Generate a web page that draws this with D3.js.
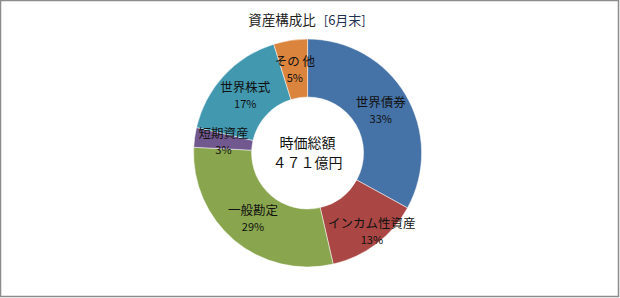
<!DOCTYPE html>
<html>
<head>
<meta charset="utf-8">
<script src="https://cdn.jsdelivr.net/npm/d3@7"></script>
<style>
  body { margin: 0; background: #fff; }
  text { font-family: "Noto Sans CJK JP", "Noto Sans", sans-serif; }
</style>
</head>
<body>
<svg id="chart" width="620" height="298"></svg>
<script>
  // asset mix, clockwise from 12 o'clock
  var categories = ["世界債券", "インカム性資産", "一般勘定", "短期資産", "世界株式", "その 他"];
  var shares = [33.0, 13.4, 29.4, 2.8, 16.6, 4.8];
  var colors = ["#4572A7", "#AA4643", "#89A54E", "#71588F", "#4198AF", "#DB843D"];
  var centerLines = ["時価総額", "４７１億円"];

  var svg = d3.select("#chart");

  svg.append("rect")
    .attr("x", 0.5).attr("y", 0.5)
    .attr("width", 618).attr("height", 296)
    .attr("fill", "#fff")
    .attr("stroke", "#8c8c8c")
    .attr("stroke-width", 1.5);

  // title
  var title = svg.append("text")
    .attr("x", 307).attr("y", 25)
    .attr("text-anchor", "middle")
    .style("font-size", "13.5px");
  title.append("tspan").attr("fill", "#222").text("資産構成比");
  title.append("tspan").attr("dx", 8).attr("fill", "#1f3050").style("font-size", "13px").text("[6月末]");

  var cx = 307.6, cy = 153, rOuter = 114, rInner = 56;

  var pie = d3.pie().sort(null).value(function(d) { return d; });
  var arcs = pie(shares);
  var arc = d3.arc().innerRadius(rInner).outerRadius(rOuter);

  var g = svg.append("g").attr("transform", "translate(" + cx + "," + cy + ")");

  g.selectAll("path.slice")
    .data(arcs)
    .enter().append("path")
    .attr("class", "slice")
    .attr("d", arc)
    .attr("fill", function(d, i) { return colors[i]; })
    .attr("stroke", "#fff")
    .attr("stroke-width", 0.5);

  // the long label was dragged outward a bit in the original
  function nudge(i) { return i === 1 ? [13, 10] : [0, 0]; }

  var labels = g.selectAll("g.lbl")
    .data(arcs)
    .enter().append("g")
    .attr("class", "lbl")
    .attr("transform", function(d, i) {
      var c = arc.centroid(d), n = nudge(i);
      return "translate(" + (c[0] + n[0]) + "," + (c[1] + n[1]) + ")";
    });

  labels.append("text")
    .attr("text-anchor", "middle")
    .attr("y", -3)
    .attr("fill", "#111")
    .style("font-size", "12.5px")
    .text(function(d, i) { return categories[i]; });

  labels.append("text")
    .attr("text-anchor", "middle")
    .attr("y", 13)
    .attr("fill", "#111")
    .style("font-size", "11px")
    .text(function(d) { return Math.round(d.data) + "%"; });

  g.selectAll("text.center")
    .data(centerLines)
    .enter().append("text")
    .attr("class", "center")
    .attr("text-anchor", "middle")
    .attr("y", function(d, i) { return -5 + i * 20; })
    .attr("fill", "#111")
    .style("font-size", "14px")
    .text(function(d) { return d; });
</script>
</body>
</html>
